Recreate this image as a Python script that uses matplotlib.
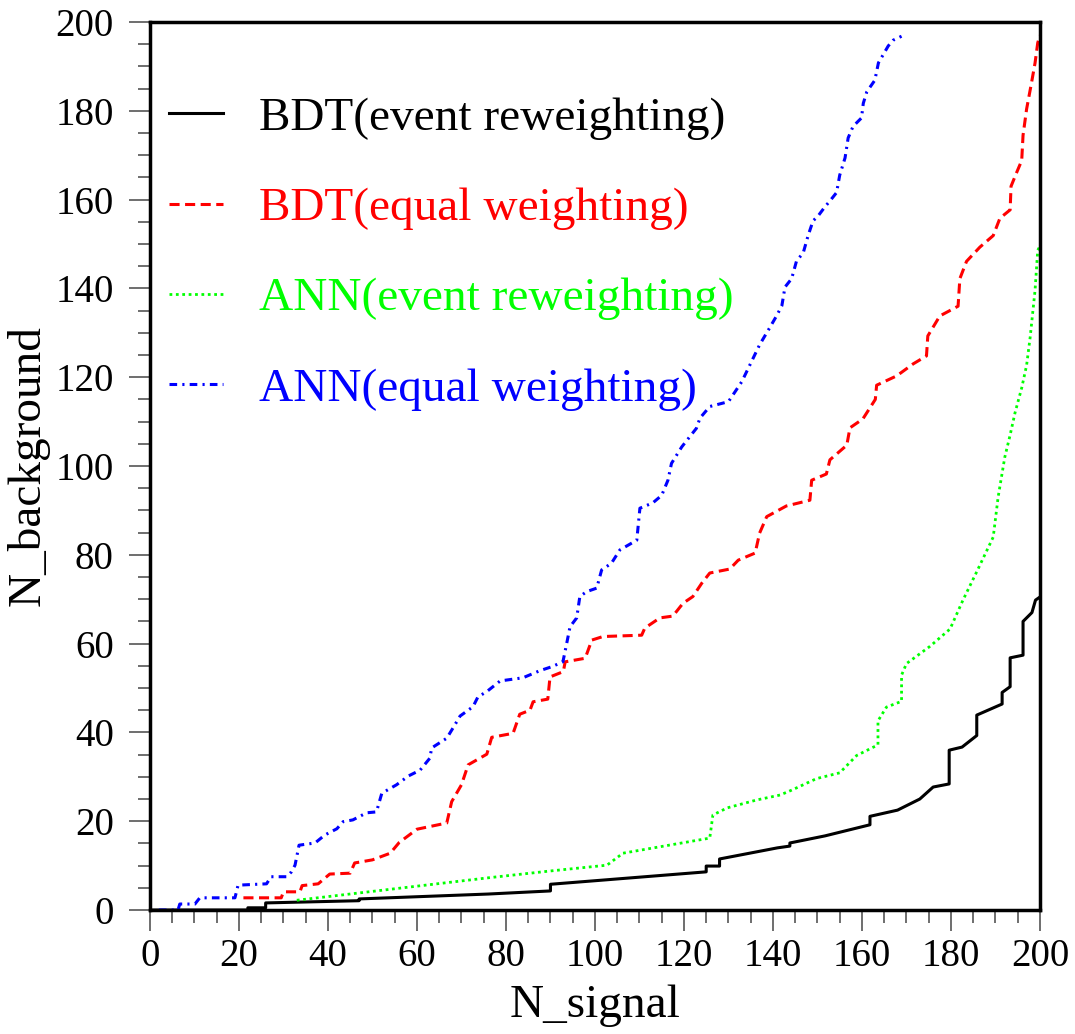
import matplotlib
matplotlib.use("Agg")
import matplotlib.pyplot as plt
from matplotlib.ticker import MultipleLocator

plt.rcParams['font.family'] = ['Liberation Serif', 'DejaVu Serif']

# curves (x = N_signal, y = N_background)
bdt_rw_x = [0, 22, 22, 26, 26, 47, 47, 76, 90, 90, 125, 125, 128, 128, 141,
            143.8, 143.8, 151.7, 161.8, 161.8, 168, 173, 176, 179.6, 179.6,
            182.5, 185.8, 185.8, 191.5, 191.5, 193.3, 193.3, 196.2, 196.2, 198.2,
            199, 200]
bdt_rw_y = [0, 0, 0.5, 0.5, 1.6, 2.1, 2.5, 3.6, 4.3, 5.8, 8.6, 9.9, 9.9, 11.5, 14,
            14.4, 15.1, 16.7, 19.2, 21.1, 22.5, 25, 27.7, 28.4, 36,
            36.7, 39.3, 43.9, 46.4, 49, 50.3, 56.8, 57.4, 65, 67,
            69.8, 70.5]

bdt_eq_x = [21, 29.5, 30, 33.7, 34.2, 37.8, 40.4, 45, 46, 50,
            54, 56, 60, 66.7, 67.8, 70, 71.5, 75.7, 76.8, 81.6,
            83.1, 85.4, 86.1, 89.4, 89.9, 92.9, 93.3, 97.8, 99.3, 101.8,
            110.5, 111.2, 114.6, 117.5, 119.8, 122, 124, 125.8, 130.3, 132.2,
            136, 137, 138.6, 143, 148.3, 148.7, 152, 152.8, 156.6, 157.3,
            160.2, 163, 163.3, 167.8, 171.5, 174.5, 174.8, 177.5, 181.6, 182,
            183.5, 186.5, 189.5, 191, 193.3, 193.5, 194.8, 195.9, 196.2, 197,
            198.1, 198.9, 199.5, 200]
bdt_eq_y = [2.75, 2.75, 4.1, 4.1, 5.5, 5.9, 8.1, 8.3, 10.6, 11.3,
            12.8, 15.2, 18.2, 19.6, 24.4, 28.2, 32.7, 35.1, 38.9, 39.8,
            44.1, 45, 46.9, 47.5, 52.5, 53.7, 55.9, 56.7, 60.8, 61.6,
            61.9, 63.5, 65.8, 66.2, 69.1, 70.6, 73.6, 75.9, 76.8, 78.8,
            80.4, 84.9, 88.6, 91, 92.3, 96.8, 98.2, 101.4, 104.7, 108.6,
            110.6, 115, 118.2, 120.3, 123, 124.8, 129.3, 133.8, 136, 142.2,
            146.1, 149.3, 151.9, 155.8, 157.7, 163, 166.2, 168.8, 174.5, 180.4,
            186.3, 190.8, 195.3, 197]

ann_rw_x = [33, 50, 76.4, 90, 102.7, 106.3, 125.8, 126.5, 129.7, 136.4,
            141.6, 144.2, 149.8, 155, 158.8, 163.6, 163.6, 165.5, 168.9, 168.9,
            170, 175.3, 179.8, 182.7, 185.8, 189.5, 190.6, 192.1, 193.3, 194.4,
            195.9, 197, 197.8, 198.9, 199.5, 200]
ann_rw_y = [2.2, 4.2, 7.3, 8.8, 10.1, 12.8, 16.2, 21.4, 23, 24.8,
            25.9, 27, 29.6, 30.9, 34.8, 37.2, 42.6, 45.7, 47, 52.9,
            55.5, 59.4, 63.3, 69.8, 76.2, 84, 93, 102, 107, 112,
            117.6, 122.7, 129, 139.6, 148.6, 149.5]

ann_eq_x = [2, 6.3, 6.7, 10.1, 11.2, 19.1, 19.8, 26.2, 27.2, 30.7,
            31.8, 32.6, 33.5, 37.1, 39.3, 42, 43.4, 45.6, 48.7, 50.9,
            52.1, 55.4, 58.1, 60.7, 62.9, 63.3, 66.7, 68.1, 69.7, 72.6,
            73.7, 75.7, 78.7, 83.8, 87.6, 90.3, 92.8, 93.5, 94.4, 95.9,
            96.6, 98.1, 100.4, 101.5, 103.7, 105.6, 107.5, 109.4, 110.1, 113,
            115, 116.4, 117.2, 119.5, 121.3, 122.8, 123.6, 125.8, 130, 133,
            137, 139.3, 140.8, 142, 142.7, 144.2, 145.3, 146.8, 147.9, 149,
            150.2, 151.7, 152.8, 154.3, 155, 156.2, 156.9, 158, 159.9, 160.3,
            161.1, 162.9, 163.7, 164.8, 165.9, 167, 168.9]
ann_eq_y = [0, 0, 1.35, 1.35, 2.75, 2.75, 5.6, 5.9, 7.5, 7.5,
            8.6, 10.1, 14.6, 15.1, 16.9, 18.3, 19.9, 20.3, 21.9, 22.1,
            26.3, 28.2, 30.2, 31.5, 34.2, 36.5, 38.7, 41, 43.7, 45.8,
            48, 49.2, 51.6, 52.3, 53.9, 54.8, 55.9, 59.3, 63.8, 65.8,
            70.6, 71.7, 72.5, 76.6, 78.1, 81.1, 82.2, 83.3, 90.5, 91.7,
            93.4, 96.8, 100.6, 104.3, 106.6, 108.5, 110.8, 113.4, 114.5, 119,
            127.3, 131.2, 133.8, 136.1, 140.3, 142.2, 146.2, 148, 151.9, 155.2,
            156.4, 158.4, 159.7, 161.6, 165.5, 169.4, 173.9, 176.5, 178.4, 181.7,
            184.3, 186.9, 190.8, 192.7, 194.6, 195.9, 196.8]

labels = ['BDT(event reweighting)', 'BDT(equal weighting)',
          'ANN(event reweighting)', 'ANN(equal weighting)']

fig = plt.figure(figsize=(10.75, 10.34), dpi=100)
ax = fig.add_axes([0.1395, 0.1199, 0.8279, 0.8588])

ax.plot(bdt_rw_x, bdt_rw_y, color='black', lw=2.2, ls='-', label=labels[0])
ax.plot(bdt_eq_x, bdt_eq_y, color='red', lw=2.2, ls=(0, (3.3, 1.8)), label=labels[1])
ax.plot(ann_rw_x, ann_rw_y, color='#00ff00', lw=2.0, ls=(0, (1, 1.3)), label=labels[2])
ax.plot(ann_eq_x, ann_eq_y, color='blue', lw=2.2, ls=(0, (2.5, 1.7, 0.7, 1.7)), label=labels[3])

ax.set_xlim(0, 200)
ax.set_ylim(0, 200)
ax.xaxis.set_major_locator(MultipleLocator(20))
ax.xaxis.set_minor_locator(MultipleLocator(5))
ax.yaxis.set_major_locator(MultipleLocator(20))
ax.yaxis.set_minor_locator(MultipleLocator(5))
ax.tick_params(which='major', direction='out', length=15, width=1.2, color='#555555',
               labelsize=28)
ax.tick_params(axis='x', which='major', pad=5)
ax.tick_params(axis='y', which='major', pad=11)
ax.tick_params(which='minor', direction='out', length=9, width=1.2, color='#555555')
for sp in ax.spines.values():
    sp.set_linewidth(2.5)

ax.set_xlabel('N_signal', fontsize=34, labelpad=7)
ax.set_ylabel('N_background', fontsize=34, labelpad=4)

leg = ax.legend(loc='upper left', frameon=False, fontsize=34, labelcolor='linecolor',
                handlelength=1.14, handletextpad=0.76, labelspacing=1.0,
                borderaxespad=0.0, bbox_to_anchor=(0.0, 0.937))

fig.savefig('out.png', dpi=100)
